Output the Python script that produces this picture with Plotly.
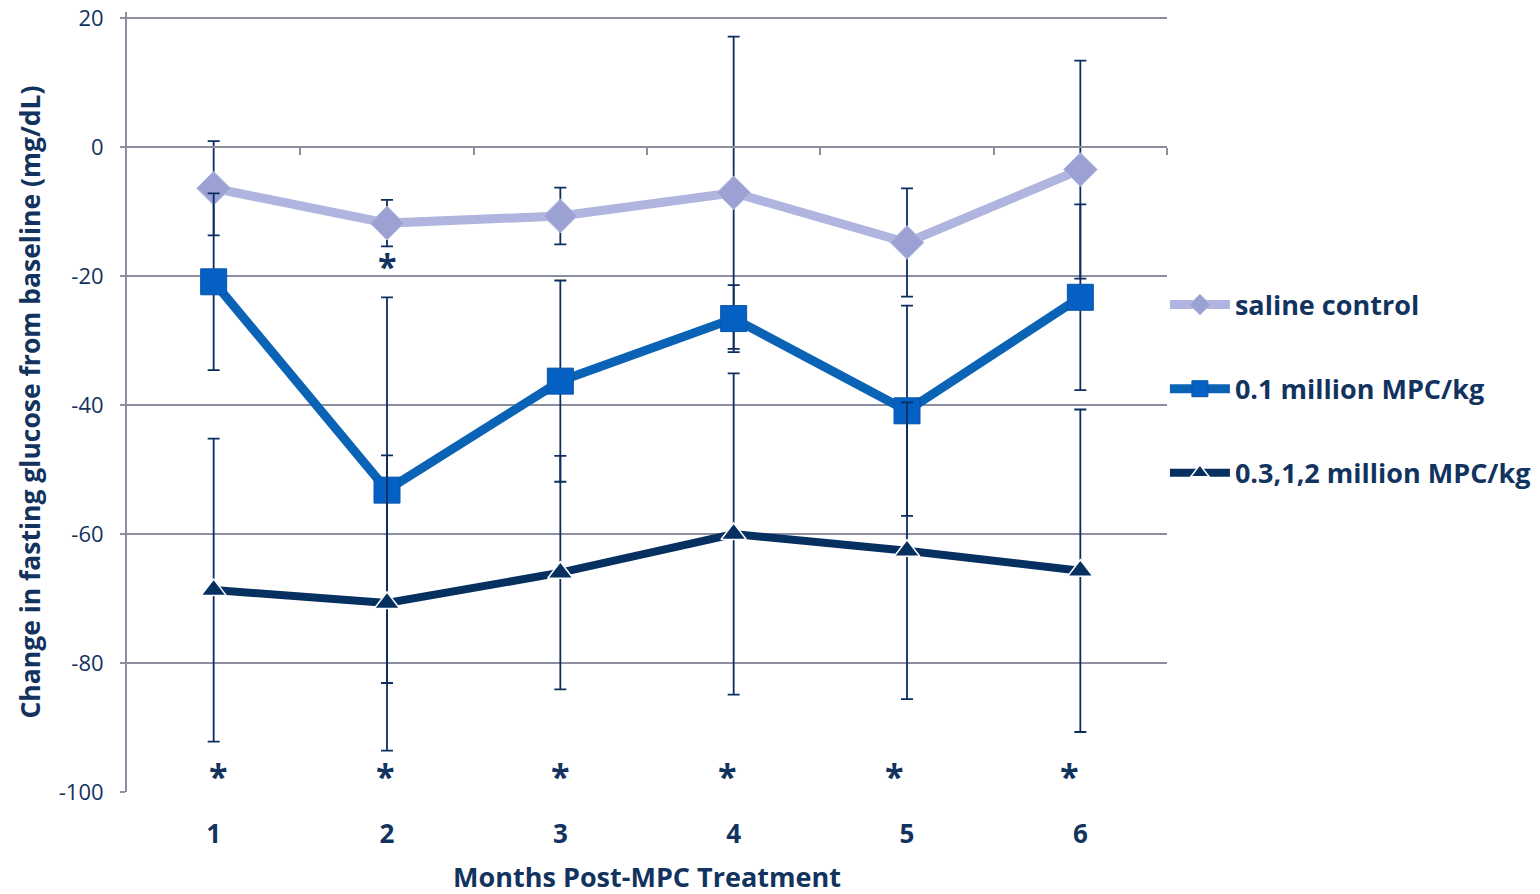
import plotly.graph_objects as go

months = [1, 2, 3, 4, 5, 6]
month_labels = ["1", "2", "3", "4", "5", "6"]

saline = [-6.4, -11.8, -10.7, -7.1, -14.8, -3.5]
saline_err = [7.3, 3.6, 4.4, 24.2, 8.4, 16.9]

low_dose = [-20.9, -53.2, -36.3, -26.6, -40.9, -23.3]
low_dose_err = [13.7, 29.9, 15.6, 5.2, 16.3, 14.4]

high_dose = [-68.7, -70.7, -66.0, -60.0, -62.6, -65.7]
high_dose_err = [23.5, 22.9, 18.1, 24.9, 23.0, 25.0]

sig_x = [1.025, 1.99, 3.0, 3.965, 4.925, 5.94, 2.0]
sig_y = [-97.5, -97.5, -97.5, -97.5, -97.5, -97.5, -18.5]

y_ticks = [20, 0, -20, -40, -60, -80, -100]
y_tick_labels = ["20", "0", "-20", "-40", "-60", "-80", "-100"]
boundaries = [1.5, 2.5, 3.5, 4.5, 5.5, 6.5]

Y_MIN, Y_MAX = -100, 20.93  # small headroom above the 20 gridline

NAVY = "#13335F"
ERR = "#0B2E5E"
GRID = "#8C8FA0"
FONT = "Open Sans"

fig = go.Figure()

def err(vals):
    return dict(type="data", array=vals, visible=True, color=ERR, thickness=1.8, width=6)

fig.add_trace(go.Scatter(
    x=months, y=saline, name="saline control", mode="lines+markers",
    line=dict(color="#AFB5DF", width=9),
    marker=dict(symbol="diamond", size=26, color="#9CA1D3", line=dict(color="#B8BDE4", width=1)),
    error_y=err(saline_err), legendgroup="a"))

fig.add_trace(go.Scatter(
    x=months, y=low_dose, name="0.1 million MPC/kg", mode="lines+markers",
    line=dict(color="#0A63B5", width=9),
    marker=dict(symbol="square", size=26, color="#0560C4", line=dict(color="#0A55A8", width=1)),
    error_y=err(low_dose_err), legendgroup="b"))

fig.add_trace(go.Scatter(
    x=months, y=high_dose, name="0.3,1,2 million MPC/kg", mode="lines+markers",
    line=dict(color="#06305F", width=8),
    marker=dict(symbol="triangle-up", size=22, color="#06305F", line=dict(color="white", width=1.5)),
    error_y=err(high_dose_err), legendgroup="c"))

# invisible trace to carry the crossing axis at y=0
fig.add_trace(go.Scatter(x=[months[0]], y=[0], xaxis="x2", mode="markers",
                         marker=dict(opacity=0), showlegend=False, hoverinfo="skip"))

for xs, ys in zip(sig_x, sig_y):
    fig.add_annotation(x=xs, y=ys, text="<b>*</b>", showarrow=False, xref="x", yref="y",
                       font=dict(family=FONT, size=34, color=NAVY), yanchor="middle")

fig.update_layout(
    width=1540, height=894,
    margin=dict(l=119, r=381, t=4, b=110, autoexpand=False),
    plot_bgcolor="white", paper_bgcolor="white",
    font=dict(family=FONT, color=NAVY),
    xaxis=dict(range=[0.5, 6.5], tickvals=months, ticktext=month_labels, automargin=False,
               tickfont=dict(family=FONT, size=26, color=NAVY, weight="bold"),
               showgrid=False, showline=False, zeroline=False, ticks="",
               ticklabelstandoff=24,
               title=dict(text="<b>Months Post-MPC Treatment</b>",
                          font=dict(family=FONT, size=27, color=NAVY), standoff=18)),
    xaxis2=dict(range=[0.5, 6.5], overlaying="x", anchor="free",
                position=(0 - Y_MIN) / (Y_MAX - Y_MIN),
                showline=True, linecolor=GRID, linewidth=2, ticks="outside",
                tickvals=boundaries, ticklen=7, tickcolor=GRID, tickwidth=2,
                showticklabels=False, showgrid=False, zeroline=False),
    yaxis=dict(range=[Y_MIN, Y_MAX], tickvals=y_ticks, ticktext=y_tick_labels, automargin=False,
               showgrid=True, gridcolor=GRID, gridwidth=1.5, ticklabeloverflow="allow",
               zeroline=False, showline=True, linecolor=GRID, linewidth=2,
               ticks="outside", ticklen=5, tickcolor=GRID, tickwidth=2, ticklabelstandoff=12,
               tickfont=dict(family=FONT, size=22, color=NAVY),
               title=dict(text="<b>Change in fasting glucose from baseline (mg/dL)</b>",
                          font=dict(family=FONT, size=26.5, color=NAVY), standoff=10)),
    legend=dict(x=0.998, xanchor="left", y=0.6557, yanchor="top",
                font=dict(family=FONT, size=27, color=NAVY, weight="bold"),
                tracegroupgap=46, itemwidth=60, bgcolor="rgba(0,0,0,0)"),
    showlegend=True,
)

fig.write_html("out.html")
